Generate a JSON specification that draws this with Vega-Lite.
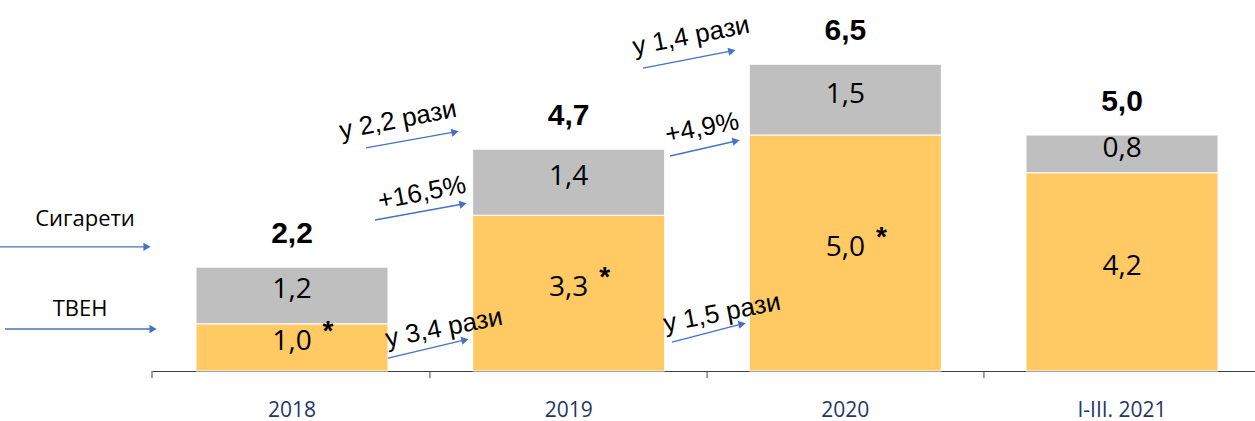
{
  "$schema": "https://vega.github.io/schema/vega-lite/v6.json",
  "width": 1103,
  "height": 354,
  "autosize": {"type": "none"},
  "padding": {"left": 152, "right": 0, "top": 17, "bottom": 50},
  "config": {
    "view": {"stroke": null},
    "locale": {"number": {"decimal": ",", "thousands": " ", "grouping": [3], "currency": ["", ""]}}
  },
  "datasets": {
    "bars": [
      {"period": "2018", "series": "ТВЕН", "value": 1.0, "star": "*"},
      {"period": "2018", "series": "Сигарети", "value": 1.2, "star": ""},
      {"period": "2019", "series": "ТВЕН", "value": 3.3, "star": "*"},
      {"period": "2019", "series": "Сигарети", "value": 1.4, "star": ""},
      {"period": "2020", "series": "ТВЕН", "value": 5.0, "star": "*"},
      {"period": "2020", "series": "Сигарети", "value": 1.5, "star": ""},
      {"period": "I-III. 2021", "series": "ТВЕН", "value": 4.2, "star": ""},
      {"period": "I-III. 2021", "series": "Сигарети", "value": 0.8, "star": ""}
    ],
    "totals": [
      {"period": "2018", "total": 2.2},
      {"period": "2019", "total": 4.7},
      {"period": "2020", "total": 6.5},
      {"period": "I-III. 2021", "total": 5.0}
    ],
    "arrows": [
      {"kind": "legend", "u0": -0.551, "v0": 2.63, "u1": -0.018, "v1": 2.63},
      {"kind": "legend", "u0": -0.533, "v0": 0.89, "u1": 0.004, "v1": 0.89},
      {"kind": "growth", "u0": 0.776, "v0": 4.725, "u1": 1.099, "v1": 5.064},
      {"kind": "growth", "u0": 0.809, "v0": 3.199, "u1": 1.128, "v1": 3.538},
      {"kind": "growth", "u0": 1.879, "v0": 4.555, "u1": 2.118, "v1": 4.873},
      {"kind": "growth", "u0": 1.781, "v0": 6.419, "u1": 2.103, "v1": 6.78},
      {"kind": "growth", "u0": 0.856, "v0": 0.275, "u1": 1.135, "v1": 0.657},
      {"kind": "growth", "u0": 1.886, "v0": 0.614, "u1": 2.14, "v1": 0.996}
    ],
    "notes": [
      {"kind": "legend", "text": "Сигарети", "u": -0.243, "v": 3.22},
      {"kind": "legend", "text": "ТВЕН", "u": -0.261, "v": 1.314},
      {"kind": "growth", "text": "у 2,2 рази", "u": 0.892, "v": 5.318},
      {"kind": "growth", "text": "+16,5%", "u": 0.979, "v": 3.771},
      {"kind": "growth", "text": "+4,9%", "u": 1.995, "v": 5.148},
      {"kind": "growth", "text": "у 1,4 рази", "u": 1.955, "v": 7.097},
      {"kind": "growth", "text": "у 3,4 рази", "u": 1.059, "v": 0.911},
      {"kind": "growth", "text": "у 1,5 рази", "u": 2.067, "v": 1.229}
    ],
    "ticks": [{"u": 0}, {"u": 1.008}, {"u": 2.013}, {"u": 3.017}]
  },
  "layer": [
    {
      "data": {"name": "bars"},
      "layer": [
        {
          "transform": [
            {"stack": "value", "groupby": ["period"], "sort": [{"field": "series", "order": "descending"}], "as": ["v0", "v1"]}
          ],
          "mark": {"type": "bar", "stroke": "white", "strokeWidth": 1},
          "encoding": {
            "x": {
              "field": "period", "type": "nominal", "sort": null,
              "scale": {"paddingInner": 0.306, "paddingOuter": 0.159, "range": [0, 1110]},
              "axis": {"title": null, "ticks": false, "domainColor": "#404040", "domainWidth": 1, "labelFont": "Open Sans", "labelFontSize": 21, "labelColor": "#1F3864", "labelPadding": 28, "labelAngle": 0}
            },
            "y": {"field": "v0", "type": "quantitative", "scale": {"domain": [0, 7.5], "nice": false}, "axis": null},
            "y2": {"field": "v1"},
            "color": {"field": "series", "type": "nominal", "scale": {"domain": ["ТВЕН", "Сигарети"], "range": ["#FFCA64", "#BFBFBF"]}, "legend": null}
          }
        },
        {
          "transform": [
            {"stack": "value", "groupby": ["period"], "sort": [{"field": "series", "order": "descending"}], "as": ["v0", "v1"]},
            {"calculate": "(datum.v0 + datum.v1) / 2", "as": "mid"}
          ],
          "mark": {"type": "text", "font": "Open Sans", "fontSize": 28, "color": "#000000", "baseline": "middle", "dy": -5},
          "encoding": {
            "x": {"field": "period", "type": "nominal", "sort": null},
            "y": {"field": "mid", "type": "quantitative", "scale": {"domain": [0, 7.5], "nice": false}, "axis": null},
            "text": {"field": "value", "type": "quantitative", "format": ".1f"}
          }
        },
        {
          "transform": [
            {"stack": "value", "groupby": ["period"], "sort": [{"field": "series", "order": "descending"}], "as": ["v0", "v1"]},
            {"calculate": "(datum.v0 + datum.v1) / 2", "as": "mid"},
            {"filter": "datum.star != ''"}
          ],
          "mark": {"type": "text", "font": "Liberation Sans", "fontWeight": "bold", "fontSize": 28, "color": "#000000", "baseline": "middle", "dx": 36, "dy": -15},
          "encoding": {
            "x": {"field": "period", "type": "nominal", "sort": null},
            "y": {"field": "mid", "type": "quantitative", "scale": {"domain": [0, 7.5], "nice": false}, "axis": null},
            "text": {"field": "star", "type": "nominal"}
          }
        },
        {
          "data": {"name": "totals"},
          "mark": {"type": "text", "font": "Liberation Sans", "fontWeight": "bold", "fontSize": 30, "color": "#000000", "baseline": "middle", "dy": -33},
          "encoding": {
            "x": {"field": "period", "type": "nominal", "sort": null},
            "y": {"field": "total", "type": "quantitative", "scale": {"domain": [0, 7.5], "nice": false}, "axis": null},
            "text": {"field": "total", "type": "quantitative", "format": ".1f"}
          }
        }
      ]
    },
    {
      "layer": [
        {
          "data": {"name": "ticks"},
          "mark": {"type": "rule", "color": "#404040", "strokeWidth": 1},
          "encoding": {
            "x": {"field": "u", "type": "quantitative", "scale": {"domain": [0, 4], "nice": false, "zero": false}, "axis": null},
            "y": {"datum": 0, "type": "quantitative", "scale": {"domain": [0, 7.5], "nice": false}, "axis": null},
            "y2": {"datum": -0.15}
          }
        },
        {
          "data": {"name": "arrows"},
          "mark": {"type": "rule", "color": "#4472C4", "strokeWidth": 1.3},
          "encoding": {
            "x": {"field": "u0", "type": "quantitative", "scale": {"domain": [0, 4], "nice": false, "zero": false}, "axis": null},
            "x2": {"field": "u1"},
            "y": {"field": "v0", "type": "quantitative", "scale": {"domain": [0, 7.5], "nice": false}, "axis": null},
            "y2": {"field": "v1"}
          }
        },
        {
          "data": {"name": "arrows"},
          "transform": [{"filter": "datum.kind == 'legend'"}],
          "mark": {"type": "point", "shape": "triangle-right", "filled": true, "opacity": 1, "color": "#4472C4", "size": 70},
          "encoding": {
            "x": {"field": "u1", "type": "quantitative", "scale": {"domain": [0, 4], "nice": false, "zero": false}, "axis": null},
            "y": {"field": "v1", "type": "quantitative", "scale": {"domain": [0, 7.5], "nice": false}, "axis": null}
          }
        },
        {
          "data": {"name": "arrows"},
          "transform": [{"filter": "datum.kind == 'growth'"}],
          "mark": {"type": "point", "shape": "triangle-right", "filled": true, "opacity": 1, "color": "#4472C4", "size": 70, "angle": -12},
          "encoding": {
            "x": {"field": "u1", "type": "quantitative", "scale": {"domain": [0, 4], "nice": false, "zero": false}, "axis": null},
            "y": {"field": "v1", "type": "quantitative", "scale": {"domain": [0, 7.5], "nice": false}, "axis": null}
          }
        },
        {
          "data": {"name": "notes"},
          "transform": [{"filter": "datum.kind == 'legend'"}],
          "mark": {"type": "text", "font": "Open Sans", "fontSize": 22, "color": "#000000", "baseline": "middle", "align": "center"},
          "encoding": {
            "x": {"field": "u", "type": "quantitative", "scale": {"domain": [0, 4], "nice": false, "zero": false}, "axis": null},
            "y": {"field": "v", "type": "quantitative", "scale": {"domain": [0, 7.5], "nice": false}, "axis": null},
            "text": {"field": "text", "type": "nominal"}
          }
        },
        {
          "data": {"name": "notes"},
          "transform": [{"filter": "datum.kind == 'growth'"}],
          "mark": {"type": "text", "font": "Liberation Sans", "fontSize": 26, "color": "#000000", "baseline": "middle", "align": "center", "angle": -11},
          "encoding": {
            "x": {"field": "u", "type": "quantitative", "scale": {"domain": [0, 4], "nice": false, "zero": false}, "axis": null},
            "y": {"field": "v", "type": "quantitative", "scale": {"domain": [0, 7.5], "nice": false}, "axis": null},
            "text": {"field": "text", "type": "nominal"}
          }
        }
      ]
    }
  ],
  "resolve": {"scale": {"x": "independent"}}
}
